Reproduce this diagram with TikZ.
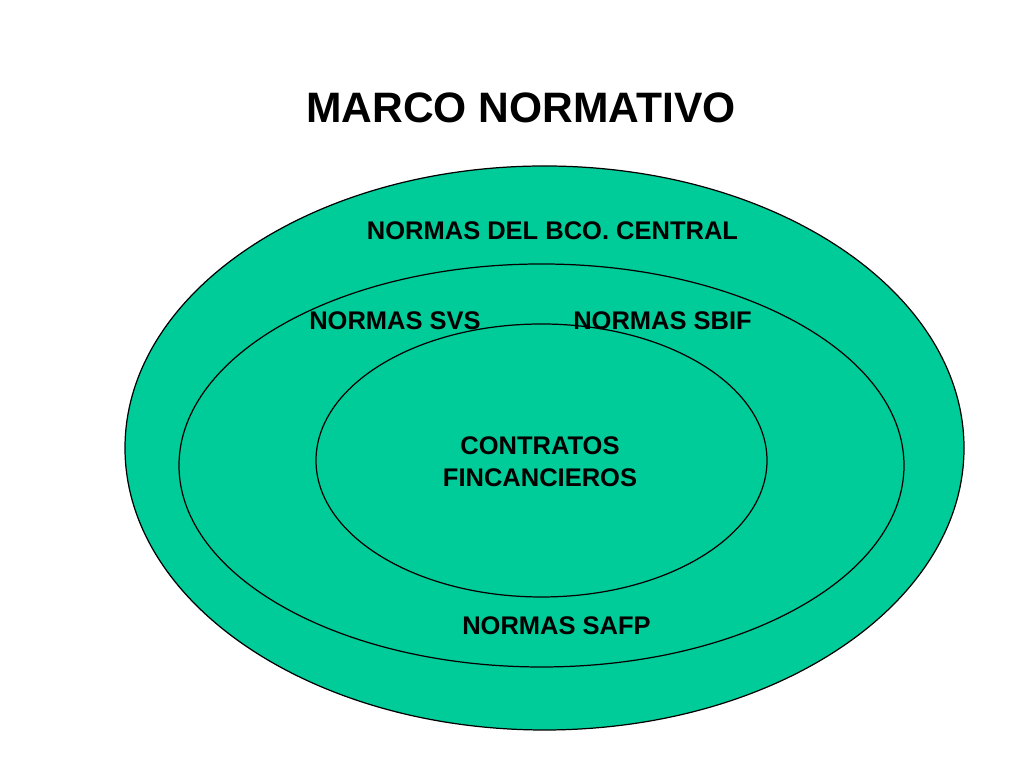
\documentclass[tikz,border=0pt]{standalone}
\usepackage{fontspec}
\setmainfont{Liberation Sans}
\usetikzlibrary{positioning}
\definecolor{marcogreen}{RGB}{0,204,153}

\begin{document}
\begin{tikzpicture}[x=0.01cm, y=-0.01cm,
		zona/.style={fill=marcogreen, draw=black, line width=0.35pt},
		etiqueta/.style={font=\bfseries\fontsize{7.25}{9.1}\selectfont, inner sep=0pt, align=center}]
		\useasboundingbox (0, 0) rectangle (1024, 768);
		\node[font=\bfseries\fontsize{12.1}{14}\selectfont, inner sep=0pt] (titulo) at (521, 107.5) {MARCO NORMATIVO};
		\filldraw[zona] (544.5, 448) ellipse [x radius=419.5, y radius=282];
		\filldraw[zona] (541.5, 465.5) ellipse [x radius=362.5, y radius=201.5];
		\filldraw[zona] (541.5, 460.5) ellipse [x radius=225.5, y radius=136.5];
		\node[etiqueta] (bco) at (552.5, 230.5) {NORMAS DEL BCO. CENTRAL};
		\node[etiqueta] (svs) at (395, 320.5) {NORMAS SVS};
		\node[etiqueta] (sbif) at (662.5, 320.5) {NORMAS SBIF};
		\node[etiqueta] (contratos) at (540, 462) {CONTRATOS\\ FINCANCIEROS};
		\node[etiqueta] (safp) at (556.5, 626) {NORMAS SAFP};
	\end{tikzpicture}
\end{document}
